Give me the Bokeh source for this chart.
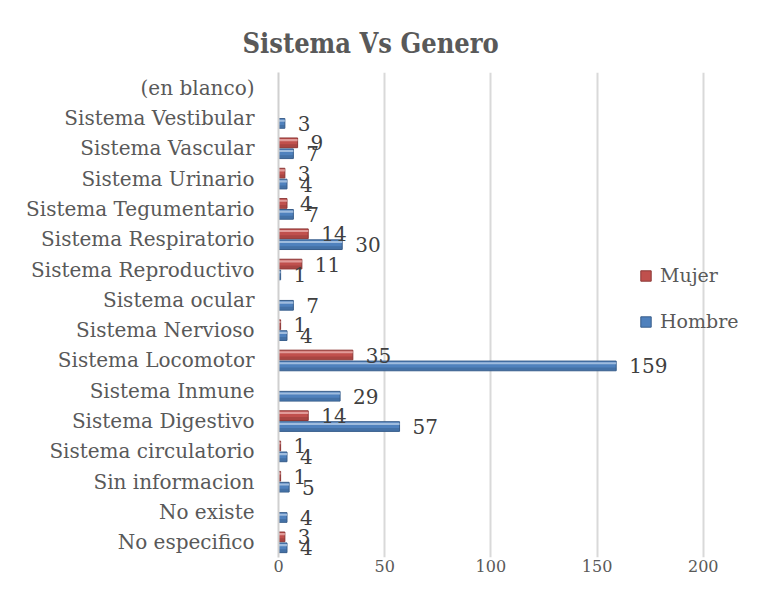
import numpy as np
from bokeh.plotting import figure
from bokeh.models import (ColumnDataSource, Range1d, FixedTicker, Legend, LegendItem, Title)
from bokeh.embed import file_html
from bokeh.resources import INLINE
from bokeh.core.properties import value

# ---- data ----
categorias = ["No especifico", "No existe", "Sin informacion", "Sistema circulatorio",
              "Sistema Digestivo", "Sistema Inmune", "Sistema Locomotor", "Sistema Nervioso",
              "Sistema ocular", "Sistema Reproductivo", "Sistema Respiratorio",
              "Sistema Tegumentario", "Sistema Urinario", "Sistema Vascular",
              "Sistema Vestibular", "(en blanco)"]
mujer = [3, None, 1, 1, 14, None, 35, 1, None, 11, 14, 4, 3, 9, None, None]
hombre = [4, 4, 5, 4, 57, 29, 159, 4, 7, 1, 30, 7, 4, 7, 3, None]
x_ticks = [0, 50, 100, 150, 200]
titulo = "Sistema Vs Genero"

RED = "#C0504D"
RED_DARK = "#8C3836"
RED_LIGHT = "#E8AEAC"
BLUE = "#4F81BD"
BLUE_DARK = "#385D8A"
BLUE_LIGHT = "#B3CAE6"

SERIF = "DejaVu Serif"

idx = np.arange(len(categorias))
OFF = 0.18
H = 0.32

def build(vals, sign):
    ys, xs, labs = [], [], []
    for i, v in enumerate(vals):
        if v is None:
            continue
        ys.append(i + sign * OFF)
        xs.append(v)
        labs.append(str(v))
    return ColumnDataSource(dict(y=ys, x=xs, lab=labs,
                                 yh=[y + H * 0.28 for y in ys],
                                 yl=[y - H * 0.3 for y in ys]))

src_m = build(mujer, +1)
src_h = build(hombre, -1)

p = figure(width=742, height=580, output_backend="svg", toolbar_location=None,
           x_range=Range1d(0, 218), y_range=Range1d(-0.5, len(categorias) - 0.5),
           min_border_left=278, min_border_right=1, min_border_top=72, min_border_bottom=23)
p.outline_line_color = None
p.background_fill_color = "white"
p.border_fill_color = "white"

# bars
rm = p.hbar(y="y", left=0, right="x", height=H, source=src_m, fill_color=RED,
            line_color=RED_DARK, line_width=1)
p.hbar(y="yl", left=0, right="x", height=H * 0.3, source=src_m, fill_color=RED_DARK,
       line_color=None, fill_alpha=0.45)
p.hbar(y="yh", left=0, right="x", height=H * 0.22, source=src_m, fill_color=RED_LIGHT,
       line_color=None, fill_alpha=0.8)
rh = p.hbar(y="y", left=0, right="x", height=H, source=src_h, fill_color=BLUE,
            line_color=BLUE_DARK, line_width=1)
p.hbar(y="yl", left=0, right="x", height=H * 0.3, source=src_h, fill_color=BLUE_DARK,
       line_color=None, fill_alpha=0.45)
p.hbar(y="yh", left=0, right="x", height=H * 0.22, source=src_h, fill_color=BLUE_LIGHT,
       line_color=None, fill_alpha=0.8)

# data labels
for src in (src_m, src_h):
    p.text(x="x", y="y", text="lab", source=src, x_offset=13, text_baseline="middle",
           text_align="left", text_font=value(SERIF), text_font_size="20px",
           text_color="#404040")

# axes
p.xaxis.ticker = FixedTicker(ticks=x_ticks)
p.xaxis.axis_line_color = None
p.xaxis.major_tick_line_color = None
p.xaxis.minor_tick_line_color = None
p.xaxis.major_tick_out = 0
p.xaxis.major_tick_in = 0
p.xaxis.major_label_standoff = 2
p.xaxis.major_label_text_font = SERIF
p.xaxis.major_label_text_font_size = "16px"
p.xaxis.major_label_text_color = "#595959"

p.yaxis.ticker = FixedTicker(ticks=list(idx))
p.yaxis.major_label_overrides = {int(i): c for i, c in zip(idx, categorias)}
p.yaxis.axis_line_color = "#D0D0D0"
p.yaxis.axis_line_width = 2
p.yaxis.major_tick_line_color = None
p.yaxis.minor_tick_line_color = None
p.yaxis.major_tick_out = 0
p.yaxis.major_tick_in = 0
p.yaxis.major_label_standoff = 24
p.yaxis.major_label_text_font = SERIF
p.yaxis.major_label_text_font_size = "20px"
p.yaxis.major_label_text_color = "#595959"

p.xgrid.ticker = FixedTicker(ticks=x_ticks)
p.xgrid.grid_line_color = "#D9D9D9"
p.xgrid.grid_line_width = 2
p.ygrid.grid_line_color = None

# title
p.add_layout(Title(text=titulo, align="left", offset=-36, standoff=27,
                   text_font="DejaVu Serif Condensed", text_font_style="bold",
                   text_font_size="27px", text_color="#595959"), "above")

# legend
legend = Legend(items=[LegendItem(label="Mujer", renderers=[rm]),
                       LegendItem(label="Hombre", renderers=[rh])],
                location=(361, 225), orientation="vertical",
                label_text_font=SERIF, label_text_font_size="19px",
                label_text_color="#595959", glyph_width=13, glyph_height=13,
                spacing=24, padding=0, margin=0, border_line_color=None,
                background_fill_alpha=0, label_standoff=8)
p.add_layout(legend)

open("out.html", "w").write(file_html(p, INLINE))
